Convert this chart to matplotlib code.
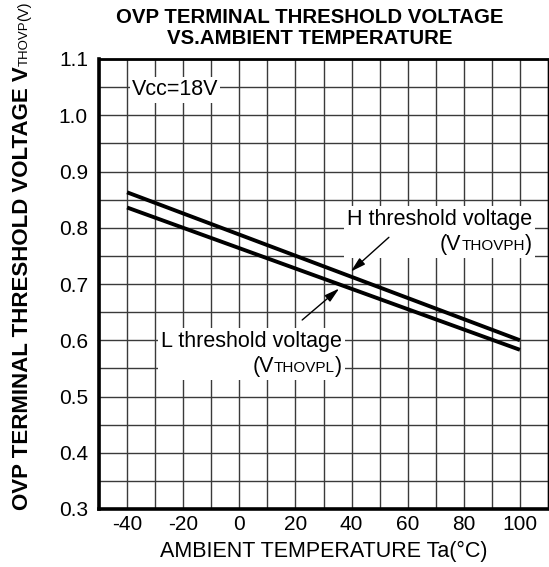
import numpy as np
import matplotlib
matplotlib.use("Agg")
import matplotlib.pyplot as plt
from matplotlib.offsetbox import TextArea, HPacker, VPacker, AnnotationBbox

plt.rcParams['font.family'] = ['Liberation Sans', 'DejaVu Sans']

# data
temps = [-40, 100]
vth_h = [0.863, 0.600]
vth_l = [0.836, 0.583]
xticks = [-40, -20, 0, 20, 40, 60, 80, 100]
yticks = [0.3, 0.4, 0.5, 0.6, 0.7, 0.8, 0.9, 1.0, 1.1]

W, H = 549, 567
fig = plt.figure(figsize=(W / 100, H / 100), dpi=100)
ax = fig.add_axes([99 / W, 58 / H, 449 / W, 450 / H])

ax.set_xlim(-50, 110)
ax.set_ylim(0.3, 1.1)
ax.set_xticks(xticks)
ax.set_xticklabels([str(t) for t in xticks])
ax.set_yticks(yticks)
ax.set_yticklabels(["%.1f" % v for v in yticks])
ax.set_xticks(np.arange(-50, 111, 10), minor=True)
ax.set_yticks(np.arange(0.3, 1.101, 0.05), minor=True)
ax.tick_params(which='both', length=0)
ax.tick_params(axis='x', pad=4, labelsize=15)
ax.tick_params(axis='y', pad=8, labelsize=15)
ax.grid(which='both', color='#3a3a3a', lw=1)
ax.set_axisbelow(True)

ax.spines['left'].set_linewidth(2.6)
ax.spines['bottom'].set_linewidth(2.6)
ax.spines['top'].set_linewidth(2.0)
ax.spines['right'].set_linewidth(1.0)

ax.plot(temps, vth_h, color='black', lw=2.8, solid_capstyle='butt', zorder=5)
ax.plot(temps, vth_l, color='black', lw=2.8, solid_capstyle='butt', zorder=5)

ax.text(-22.9, 1.045, "Vcc=18V", fontsize=15.5, ha='center', va='center',
        bbox=dict(fc='white', ec='none', pad=1.5), zorder=4)


def label_box(line1, sub, xy):
    t1 = TextArea(line1, textprops=dict(size=15.5))
    row = HPacker(children=[TextArea("(V", textprops=dict(size=15.5)),
                            TextArea(sub, textprops=dict(size=11)),
                            TextArea(")", textprops=dict(size=15.5))],
                  align="baseline", pad=0, sep=0)
    box = VPacker(children=[t1, row], align="right", pad=0, sep=3)
    ab = AnnotationBbox(box, xy, xycoords='data', box_alignment=(1, 0.5),
                        frameon=True, pad=0.2,
                        bboxprops=dict(fc='white', ec='none'), zorder=4)
    ax.add_artist(ab)


label_box("H threshold voltage", "THOVPH", (104.3, 0.793))
label_box("L threshold voltage", "THOVPL", (36.6, 0.575))

arrow = dict(arrowstyle='-|>,head_length=0.9,head_width=0.25', color='black',
             lw=1, shrinkA=0, shrinkB=0)
ax.annotate("", xy=(39.7, 0.722), xytext=(53.3, 0.783), arrowprops=arrow, zorder=6)
ax.annotate("", xy=(35.6, 0.692), xytext=(22.4, 0.636), arrowprops=arrow, zorder=6)

ax.set_xlabel("AMBIENT TEMPERATURE Ta(°C)", fontsize=15.5, labelpad=5)

fig.text(310 / W, 1 - 28 / H, "OVP TERMINAL THRESHOLD VOLTAGE\nVS.AMBIENT TEMPERATURE",
         ha='center', va='center', fontsize=14.7, fontweight='bold', linespacing=1.1)

# rotated y label assembled from pieces (subscript part is smaller)
renderer = fig.canvas.get_renderer()
pieces = [("OVP TERMINAL THRESHOLD VOLTAGE V", 16.0, 'bold'),
          ("THOVP", 9.5, 'normal'),
          ("(V)", 10.5, 'normal')]
ypos = 57.0
for s, size, weight in pieces:
    t = fig.text(28 / W, ypos / H, s, rotation=90, rotation_mode='anchor',
                 ha='left', va='baseline', fontsize=size, fontweight=weight)
    bb = t.get_window_extent(renderer)
    ypos += bb.height

fig.savefig("out.png", dpi=100)
